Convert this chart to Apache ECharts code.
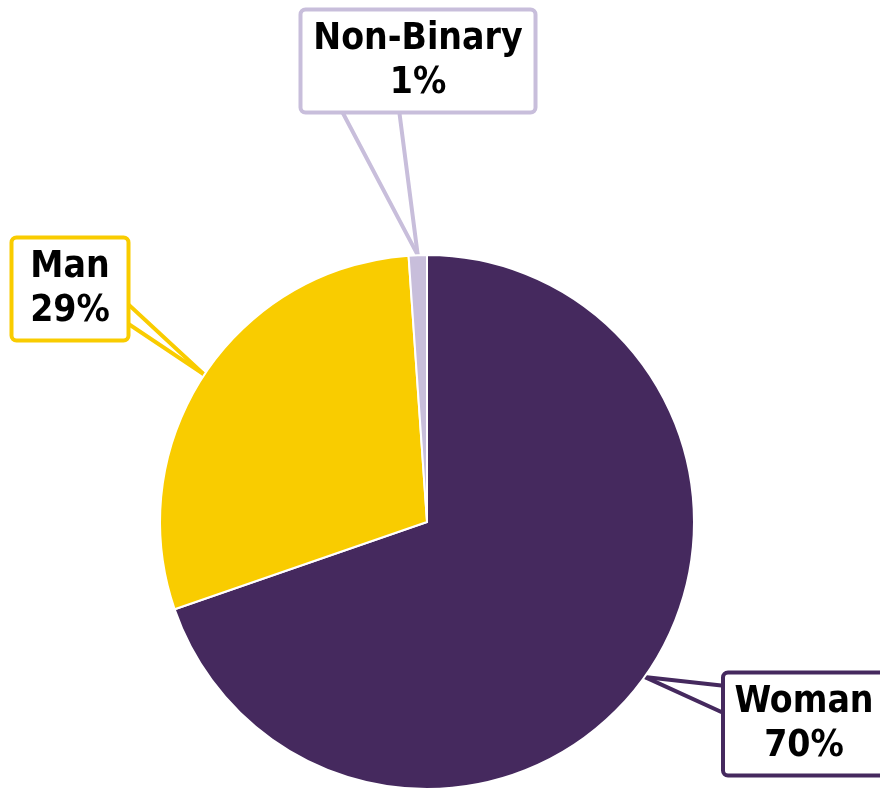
<!DOCTYPE html>
<html><head><meta charset="utf-8">
<script src="https://cdn.jsdelivr.net/npm/echarts@6/dist/echarts.min.js"></script>
<style>html,body{margin:0;padding:0;background:#fff}#c{width:880px;height:788px}</style>
</head><body><div id="c"></div>
<script>
const categories = ['Woman', 'Man', 'Non-Binary'];
const values = [69.7, 29.2, 1.1];
const colors = ['#45295e', '#f9cc00', '#c8bedb'];
const labelCenters = [[819, 724], [70, 289], [418, 61]];
const labelWidths = [150, 105, 223];
const labelPaddings = [[6, 34, 5, 4], [6, 4, 5, 4], [6, 4, 5, 4]];
// callout wedge base ends (two sides of each callout pointer)
const calloutA = [[727, 686], [123, 298], [341, 108]];
const calloutB = [[727, 714], [123, 321], [399, 108]];

const chart = echarts.init(document.getElementById('c'), null, {renderer: 'canvas'});

function wedgeSeries(pts, z) {
  return {
    type: 'pie', silent: true, z: z,
    center: [427, 522], radius: 267, startAngle: 90, clockwise: true,
    avoidLabelOverlap: false,
    itemStyle: {color: 'rgba(0,0,0,0)', borderWidth: 0},
    label: {show: true, position: 'outside', formatter: ' ', fontSize: 1, color: 'rgba(0,0,0,0)'},
    labelLine: {show: true, length: 1, length2: 1, smooth: false, lineStyle: {width: 4}},
    labelLayout: function (p) {
      const c = pts[p.dataIndex];
      return {x: c[0], y: c[1], align: 'center', verticalAlign: 'middle'};
    },
    data: categories.map((n, i) => ({
      name: n, value: values[i],
      labelLine: {lineStyle: {color: colors[i]}}
    }))
  };
}

chart.setOption({
  animation: false,
  series: [
    wedgeSeries(calloutA, 1),
    wedgeSeries(calloutB, 1),
    {
      type: 'pie', z: 3,
      center: [427, 522],
      radius: 267,
      startAngle: 90,
      clockwise: true,
      percentPrecision: 0,
      avoidLabelOverlap: false,
      itemStyle: {borderColor: '#fff', borderWidth: 2},
      label: {
        show: true,
        position: 'outside',
        formatter: '{b}\n{d}%',
        color: '#000',
        fontFamily: "'DejaVu Sans Condensed', 'DejaVu Sans', sans-serif",
        fontWeight: 'bold',
        fontSize: 37,
        lineHeight: 44,
        align: 'center',
        backgroundColor: '#fff',
        borderWidth: 4,
        borderRadius: 3
      },
      labelLine: {show: false},
      labelLayout: function (p) {
        const c = labelCenters[p.dataIndex];
        return {x: c[0], y: c[1], align: 'center', verticalAlign: 'middle'};
      },
      data: categories.map((n, i) => ({
        name: n,
        value: values[i],
        itemStyle: {color: colors[i]},
        label: {borderColor: colors[i], width: labelWidths[i], padding: labelPaddings[i]}
      }))
    }
  ]
});
</script></body></html>
